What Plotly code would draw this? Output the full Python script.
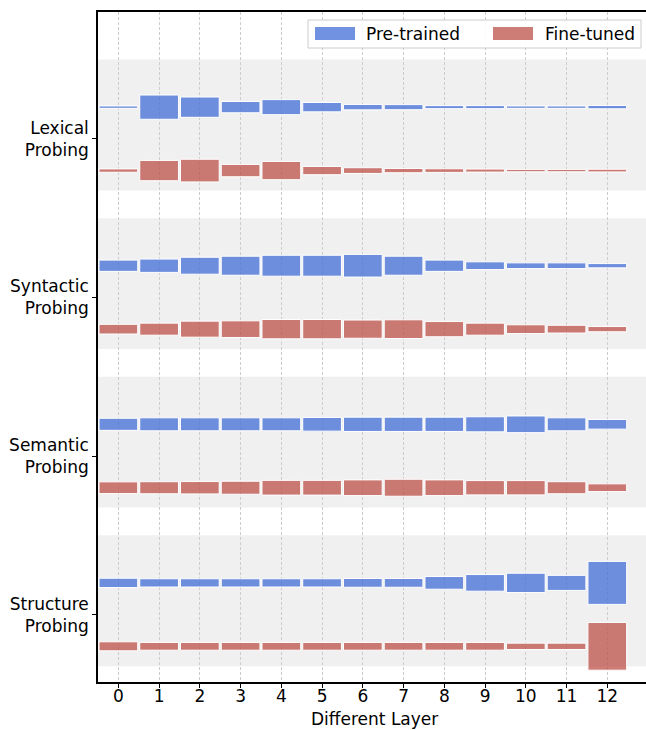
import plotly.graph_objects as go

layers = list(range(13))
tasks = ["Lexical<br>Probing", "Syntactic<br>Probing", "Semantic<br>Probing", "Structure<br>Probing"]
series_names = ["Pre-trained", "Fine-tuned"]

# bar thickness values (relative units, per layer 0..12)
pre_lexical = [1.5, 15.3, 12.8, 7.1, 9.5, 5.9, 3.4, 3.2, 1.9, 1.9, 1.5, 1.5, 2.1]
fin_lexical = [2.1, 12.8, 14.3, 7.8, 11.5, 5.2, 3.6, 2.7, 2.3, 1.9, 1.5, 1.5, 1.7]
pre_syntactic = [7.1, 8.4, 10.7, 12.0, 13.2, 13.2, 14.3, 12.0, 7.1, 4.9, 3.6, 3.6, 2.7]
fin_syntactic = [6.1, 7.6, 10.1, 10.5, 12.2, 12.2, 11.5, 11.8, 9.6, 7.6, 5.5, 4.9, 3.3]
pre_semantic = [7.6, 8.2, 8.2, 8.2, 8.2, 8.6, 9.0, 9.0, 9.0, 9.5, 10.5, 8.2, 6.1]
fin_semantic = [7.4, 7.6, 7.8, 8.2, 9.3, 9.3, 9.9, 10.7, 9.9, 9.0, 9.0, 7.6, 4.9]
pre_structure = [5.9, 5.2, 5.2, 5.2, 5.2, 5.2, 5.5, 5.5, 8.0, 10.5, 12.2, 9.5, 27.1]
fin_structure = [5.7, 4.9, 4.9, 4.9, 4.9, 4.9, 4.9, 4.9, 4.9, 4.9, 4.0, 4.0, 30.1]

pre = [pre_lexical, pre_syntactic, pre_semantic, pre_structure]
fin = [fin_lexical, fin_syntactic, fin_semantic, fin_structure]

group_pos = [3, 2, 1, 0]
scale = 0.01
offset = 0.2

blue = "rgba(65,110,215,0.75)"
red = "rgba(190,80,72,0.75)"

fig = go.Figure()

for gi, g in enumerate(group_pos):
    for vals, off, color, name in [(pre[gi], offset, blue, series_names[0]),
                                   (fin[gi], -offset, red, series_names[1])]:
        h = [v * scale for v in vals]
        base = [g + off - hh / 2 for hh in h]
        fig.add_trace(go.Bar(
            x=layers, y=h, base=base, width=0.95,
            marker=dict(color=color, line=dict(color="white", width=1)),
            name=name, showlegend=False,
        ))

shapes = []
for g in group_pos:
    shapes.append(dict(type="rect", xref="paper", yref="y", x0=0, x1=1,
                       y0=g - 0.325, y1=g + 0.5, fillcolor="#f0f0f0",
                       line=dict(width=0), layer="below"))

# custom legend (matplotlib-style wide swatches)
L, T, W, H = 98, 12, 548, 670
def px(x):
    return (x - L) / W
def py(y):
    return 1 - (y - T) / H

shapes.append(dict(type="rect", xref="paper", yref="paper",
                   x0=px(308), x1=px(641), y0=py(48), y1=py(20),
                   fillcolor="rgba(255,255,255,0.9)", line=dict(color="#cccccc", width=1),
                   layer="above"))
shapes.append(dict(type="rect", xref="paper", yref="paper",
                   x0=px(315), x1=px(355), y0=py(40), y1=py(27),
                   fillcolor=blue, line=dict(width=0), layer="above"))
shapes.append(dict(type="rect", xref="paper", yref="paper",
                   x0=px(493), x1=px(533), y0=py(40), y1=py(27),
                   fillcolor=red, line=dict(width=0), layer="above"))

annotations = [
    dict(text=series_names[0], xref="paper", yref="paper", x=px(364), y=py(34),
         xanchor="left", yanchor="middle", showarrow=False, font=dict(size=17)),
    dict(text=series_names[1], xref="paper", yref="paper", x=px(543), y=py(34),
         xanchor="left", yanchor="middle", showarrow=False, font=dict(size=17)),
    dict(text="Different Layer", xref="paper", yref="paper", x=px(374), y=py(719),
         xanchor="center", yanchor="middle", showarrow=False, font=dict(size=17)),
]

fig.update_layout(
    width=646, height=730,
    margin=dict(l=98, r=0, t=12, b=48),
    plot_bgcolor="white", paper_bgcolor="white",
    barmode="overlay",
    shapes=shapes, annotations=annotations,
    font=dict(family="DejaVu Sans", size=17, color="black"),
    showlegend=False,
)

fig.update_xaxes(
    range=[-0.5, 12.95], tickmode="array", tickvals=layers,
    ticktext=[str(l) for l in layers],
    showgrid=True, gridcolor="#cccccc", gridwidth=1, griddash="3px,2px",
    showline=True, linecolor="black", linewidth=1.5, mirror=True,
    ticks="outside", ticklen=4, tickcolor="black", ticklabelstandoff=-6,
    zeroline=False,
)
fig.update_yaxes(
    range=[-0.425, 3.8], tickmode="array", tickvals=group_pos, ticktext=tasks,
    showgrid=False, showline=True, linecolor="black", linewidth=1.5,
    ticks="outside", ticklen=4, tickcolor="black", zeroline=False,
)

fig.write_html("out.html", config={"displayModeBar": False},
               post_script="document.body.style.margin='0';")
